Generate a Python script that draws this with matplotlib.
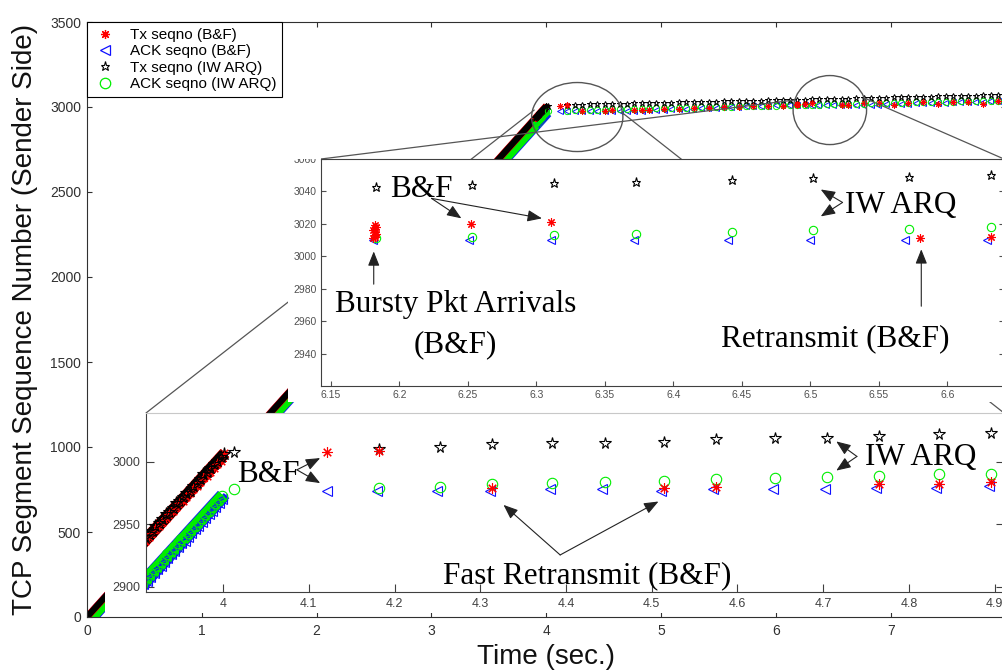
import matplotlib
matplotlib.use('Agg')
import matplotlib.pyplot as plt
from matplotlib.patches import Ellipse, Rectangle, ConnectionPatch
from matplotlib.lines import Line2D

plt.rcParams['font.family'] = ['Liberation Sans', 'DejaVu Sans']

# ---------------- data (time in s, TCP segment sequence numbers) ----------------
# main ramp (slow-start phase) anchors
ramp_tx_t = [0.0, 4.002]
ramp_tx_s = [0, 3007]
ramp_ack_t = [0.04, 4.0]
ramp_ack_s = [0, 2973]

# dense ramp end (visible in lower inset)
ramp_tx_t_pts = [3.905, 3.909, 3.913, 3.917, 3.921, 3.925, 3.929, 3.933, 3.937, 3.941,
                 3.945, 3.949, 3.953, 3.957, 3.961, 3.965, 3.969, 3.973, 3.977, 3.981,
                 3.985, 3.989, 3.993, 3.997, 4.001]
ramp_tx_iw_s = [2936, 2940, 2942, 2945, 2949, 2951, 2954, 2958, 2960, 2963,
                2967, 2969, 2972, 2975, 2977, 2981, 2983, 2986, 2990, 2992,
                2995, 2998, 3001, 3004, 3006]
ramp_tx_bf_s = [2934, 2937, 2940, 2943, 2946, 2949, 2952, 2955, 2958, 2961,
                2964, 2967, 2969, 2972, 2975, 2978, 2981, 2984, 2987, 2989,
                2992, 2995, 2998, 3001, 3007]
ramp_ack_t_pts = [3.907, 3.911, 3.915, 3.919, 3.923, 3.927, 3.931, 3.935, 3.939, 3.943,
                  3.947, 3.951, 3.955, 3.959, 3.963, 3.967, 3.971, 3.975, 3.979, 3.983,
                  3.987, 3.991, 3.995, 3.999]
ramp_ack_iw_s = [2905, 2908, 2911, 2914, 2917, 2920, 2923, 2926, 2929, 2932,
                 2935, 2938, 2940, 2943, 2946, 2949, 2952, 2955, 2958, 2961,
                 2964, 2967, 2970, 2973]
ramp_ack_bf_s = [2902, 2905, 2908, 2911, 2914, 2917, 2920, 2923, 2926, 2929,
                 2932, 2935, 2937, 2940, 2943, 2946, 2949, 2952, 2955, 2958,
                 2961, 2964, 2967, 2970]

# after the ramp: IW ARQ transmissions / ACKs
t_iw = [4.013, 4.182, 4.253, 4.314, 4.384, 4.445, 4.514, 4.575, 4.644, 4.705,
        4.765, 4.835, 4.896, 4.960, 5.025, 5.090, 5.155, 5.220, 5.285, 5.350,
        5.415, 5.480, 5.545, 5.610, 5.675, 5.740, 5.805, 5.870, 5.935, 6.000,
        6.060, 6.120, 6.183, 6.253, 6.313, 6.373, 6.443, 6.502, 6.572, 6.632,
        6.700, 6.765, 6.830, 6.895, 6.960, 7.025, 7.090, 7.155, 7.220, 7.285,
        7.350, 7.415, 7.480, 7.545, 7.610, 7.675, 7.740, 7.805, 7.870, 7.935, 8.000]
s_tx_iw = [3008, 3010, 3012, 3014, 3015, 3015, 3016, 3018, 3019, 3019,
           3021, 3022, 3023, 3024, 3025, 3026, 3027, 3028, 3029, 3030,
           3031, 3032, 3033, 3034, 3035, 3036, 3037, 3038, 3039, 3040,
           3041, 3042, 3043, 3044, 3045, 3046, 3047, 3048, 3049, 3050,
           3051, 3052, 3053, 3054, 3055, 3056, 3057, 3058, 3059, 3060,
           3061, 3062, 3063, 3064, 3065, 3066, 3067, 3068, 3069, 3070, 3071]
s_ack_iw = [2978, 2979, 2980, 2982, 2983, 2984, 2985, 2986, 2987, 2988,
            2989, 2990, 2990, 2992, 2993, 2994, 2995, 2996, 2997, 2998,
            2999, 3000, 3001, 3002, 3003, 3004, 3005, 3006, 3007, 3008,
            3009, 3010, 3011, 3012, 3013, 3014, 3015, 3016, 3017, 3018,
            3019, 3020, 3021, 3022, 3023, 3024, 3025, 3026, 3027, 3028,
            3029, 3030, 3031, 3032, 3033, 3034, 3035, 3036, 3037, 3038, 3039]

# after the ramp: B&F ACKs
t_ack_bf = [4.121, 4.180, 4.250, 4.311, 4.381, 4.442, 4.511, 4.572, 4.641, 4.702,
            4.762, 4.832, 4.893, 4.957, 5.022, 5.087, 5.152, 5.217, 5.282, 5.347,
            5.412, 5.477, 5.542, 5.607, 5.672, 5.737, 5.802, 5.867, 5.932, 5.997,
            6.057, 6.117, 6.181, 6.251, 6.311, 6.371, 6.440, 6.500, 6.569, 6.629,
            6.697, 6.762, 6.827, 6.892, 6.957, 7.022, 7.087, 7.152, 7.217, 7.282,
            7.347, 7.412, 7.477, 7.542, 7.607, 7.672, 7.737, 7.802, 7.867, 7.932, 7.997]
s_ack_bf = [2977, 2977, 2977, 2977, 2978, 2978, 2977, 2978, 2978, 2978,
            2979, 2979, 2981, 2983, 2985, 2986, 2988, 2990, 2991, 2993,
            2995, 2996, 2998, 3000, 3001, 3003, 3005, 3006, 3008, 3009,
            3010, 3010, 3010, 3010, 3010, 3010, 3010, 3010, 3010, 3010,
            3011, 3012, 3013, 3014, 3016, 3017, 3018, 3019, 3021, 3022,
            3023, 3024, 3026, 3027, 3028, 3029, 3031, 3032, 3033, 3034, 3036]

# after the ramp: B&F transmissions (incl. retransmissions and bursts)
t_tx_bf = [4.121, 4.182, 4.314, 4.514, 4.575, 4.765, 4.835, 4.896, 5.025, 5.155,
           5.285, 5.415, 5.545, 5.675, 5.805, 5.935, 6.060, 6.181, 6.182, 6.182,
           6.183, 6.182, 6.181, 6.182, 6.183, 6.182, 6.252, 6.311, 6.580, 6.632,
           6.765, 6.895, 7.025, 7.155, 7.285, 7.415, 7.545, 7.675, 7.805, 7.935]
s_tx_bf = [3008, 3009, 2979, 2979, 2980, 2982, 2982, 2984, 2986, 2989,
           2992, 2995, 2998, 3001, 3003, 3006, 3008, 3011, 3012, 3013,
           3014, 3015, 3016, 3017, 3018, 3019, 3020, 3021, 3011, 3012,
           3022, 3024, 3014, 3026, 3028, 3017, 3030, 3032, 3020, 3034]

labels = ['Tx seqno (B&F)', 'ACK seqno (B&F)', 'Tx seqno (IW ARQ)', 'ACK seqno (IW ARQ)']
RED, BLUE, BLACK, GREEN = '#ff0000', '#1010ff', '#000000', '#00ee00'
AST = (8, 2, 0)

W, H = 1002, 670
fig = plt.figure(figsize=(W / 100, H / 100), dpi=100)


def rect(l, t, r, b):
    return [l / W, 1 - b / H, (r - l) / W, (b - t) / H]


def draw_ramp(ax, lw_ack, lw_tx):
    ax.plot(ramp_ack_t, ramp_ack_s, color=BLUE, lw=lw_ack + 1.2, solid_capstyle='butt')
    ax.plot([t + 0.004 for t in ramp_ack_t], ramp_ack_s, color=BLUE, lw=lw_ack * 0.6, solid_capstyle='butt')
    ax.plot(ramp_ack_t, ramp_ack_s, color=GREEN, lw=lw_ack, solid_capstyle='butt')
    ax.plot(ramp_tx_t, ramp_tx_s, color=RED, lw=lw_tx + 0.6, solid_capstyle='butt')
    ax.plot(ramp_tx_t, ramp_tx_s, color=BLACK, lw=lw_tx, solid_capstyle='butt')


def draw_series(ax, ms_star, ms_o, ms_tri, ms_ast, mew=0.8, ms_ramp=None):
    ms_ramp = ms_ramp or ms_star
    ax.plot(ramp_ack_t_pts, ramp_ack_bf_s, ls='none', marker='<', ms=ms_tri, mfc='none', mec=BLUE, mew=mew)
    ax.plot(ramp_ack_t_pts, ramp_ack_iw_s, ls='none', marker='o', ms=ms_o, mfc='none', mec=GREEN, mew=mew)
    ax.plot(ramp_tx_t_pts, ramp_tx_bf_s, ls='none', marker=AST, ms=ms_ast, mec=RED, mew=mew)
    ax.plot(ramp_tx_t_pts, ramp_tx_iw_s, ls='none', marker='*', ms=ms_ramp, mfc='none', mec=BLACK, mew=mew)
    ax.plot(t_ack_bf, s_ack_bf, ls='none', marker='<', ms=ms_tri, mfc='none', mec=BLUE, mew=mew)
    ax.plot(t_iw, s_ack_iw, ls='none', marker='o', ms=ms_o, mfc='none', mec=GREEN, mew=mew)
    ax.plot(t_iw, s_tx_iw, ls='none', marker='*', ms=ms_star, mfc='none', mec=BLACK, mew=mew)
    ax.plot(t_tx_bf, s_tx_bf, ls='none', marker=AST, ms=ms_ast, mec=RED, mew=mew)


# ---------------- main axes ----------------
ax = fig.add_axes(rect(87, 22, 1005.5, 617))
draw_ramp(ax, 8.5, 4.5)
draw_series(ax, 4.5, 4.5, 4.5, 4.5, mew=0.7)
ax.set_xlim(0, 8)
ax.set_ylim(0, 3500)
ax.set_xticks(range(0, 8))
ax.set_yticks(range(0, 3501, 500))
ax.tick_params(direction='in', top=True, right=True, length=3.6, width=0.8,
               labelsize=10, colors='#303030')
ax.tick_params(axis='x', pad=5)
ax.tick_params(axis='y', pad=4.3)
for sp in ax.spines.values():
    sp.set_color('#303030')
ax.set_xlabel('Time (sec.)', fontsize=20, color='#111111')
ax.xaxis.set_label_coords(0.5, -0.045)
ax.set_ylabel('TCP Segment Sequence Number (Sender Side)', fontsize=20, color='#111111')
ax.yaxis.set_label_coords(-0.053, 0.5)

ax.add_patch(Ellipse((4.27, 2941), 0.795, 406, fill=False, ec='#555555', lw=1, zorder=5))
ax.add_patch(Ellipse((6.47, 2982), 0.64, 406, fill=False, ec='#555555', lw=1, zorder=5))

handles = [Line2D([], [], ls='none', marker=AST, ms=6.5, mec=RED, mew=0.9),
           Line2D([], [], ls='none', marker='<', ms=7.5, mfc='none', mec=BLUE, mew=0.9),
           Line2D([], [], ls='none', marker='*', ms=6.5, mfc='none', mec=BLACK, mew=0.8),
           Line2D([], [], ls='none', marker='o', ms=7.5, mfc='none', mec=GREEN, mew=0.9)]
leg = ax.legend(handles, labels, loc='upper left', borderaxespad=0, fontsize=11,
                fancybox=False, edgecolor='black', framealpha=1, handlelength=1.6,
                handletextpad=0.8, labelspacing=0.15, borderpad=0.4)
leg.get_frame().set_linewidth(0.8)
leg.set_zorder(20)

# ---------------- lower inset (3.91 - 4.91 s) ----------------
ax1 = fig.add_axes(rect(146, 413, 1004, 592))
ax1.add_patch(Rectangle((-0.048, -0.115), 1.1, 1.115, transform=ax1.transAxes,
                        fc='white', ec='none', clip_on=False, zorder=-5))
draw_ramp(ax1, 9.0, 8.0)
draw_series(ax1, 8.5, 7.5, 7.5, 7.5, ms_ramp=9.5)
ax1.set_xlim(3.910, 4.911)
ax1.set_ylim(2896, 3039)
ax1.set_xticks([4.0, 4.1, 4.2, 4.3, 4.4, 4.5, 4.6, 4.7, 4.8, 4.9])
ax1.set_xticklabels(['4', '4.1', '4.2', '4.3', '4.4', '4.5', '4.6', '4.7', '4.8', '4.9'])
ax1.set_yticks([2900, 2950, 3000])
ax1.tick_params(direction='in', right=True, top=False, length=6, width=0.8,
                labelsize=9, colors='#404040', pad=4.3)
for sp in ax1.spines.values():
    sp.set_color('#404040')
ax1.spines['top'].set_color('#c8c8c8')

# ---------------- upper inset (6.14 - 6.64 s) ----------------
ax2 = fig.add_axes(rect(321, 159, 1004, 386))
ax2.add_patch(Rectangle((-0.048, -0.07), 1.1, 1.07, transform=ax2.transAxes,
                        fc='white', ec='none', clip_on=False, zorder=-5))
draw_series(ax2, 6.5, 6, 6, 6)
ax2.set_xlim(6.1427, 6.6414)
ax2.set_ylim(2920, 3060)
ax2.set_xticks([6.15, 6.2, 6.25, 6.3, 6.35, 6.4, 6.45, 6.5, 6.55, 6.6])
ax2.set_xticklabels(['6.15', '6.2', '6.25', '6.3', '6.35', '6.4', '6.45', '6.5', '6.55', '6.6'])
ax2.set_yticks([2940, 2960, 2980, 3000, 3020, 3040, 3060])
ax2.tick_params(direction='in', right=True, top=False, length=3.6, width=0.8,
                labelsize=7.5, colors='#505050', pad=3)
for sp in ax2.spines.values():
    sp.set_color('#404040')
# the top half of the "3060" label is cropped in the original
ax2.add_patch(Rectangle((-0.06, 1.0015), 0.06, 0.05, transform=ax2.transAxes,
                        fc='white', ec='none', clip_on=False, zorder=10))

# ---------------- zoom connectors ----------------
for axA, xa, xyB in [(ax1, 0, (3.895, 2982)), (ax1, 1, (4.655, 2970)),
                     (ax2, 0, (6.162, 3041)), (ax2, 1, (6.77, 3053))]:
    con = ConnectionPatch(xyA=(xa, 1), coordsA=axA.transAxes, xyB=xyB, coordsB=ax.transData,
                          color='#555555', lw=0.9, zorder=4)
    con.set_clip_on(False)
    ax.add_artist(con)

# ---------------- annotations ----------------
SERIF = dict(family=['Liberation Serif', 'DejaVu Serif'], fontsize=22.5, color='black')
AP = dict(arrowstyle='-|>,head_length=0.55,head_width=0.22', color='#222222', lw=0.8,
          mutation_scale=16, shrinkA=0, shrinkB=0)

# upper inset
ax2.text(6.2161, 3036.3, 'B&F', ha='center', va='baseline', **SERIF)
ax2.annotate('', xy=(6.2452, 3023.4), xytext=(6.2234, 3035.7), arrowprops=AP)
ax2.annotate('', xy=(6.3040, 3023.4), xytext=(6.2234, 3035.7), arrowprops=AP)
ax2.text(6.2408, 2965.5, 'Bursty Pkt Arrivals', ha='center', va='baseline', **SERIF)
ax2.text(6.2408, 2940.9, '(B&F)', ha='center', va='baseline', **SERIF)
ax2.annotate('', xy=(6.1812, 3003.0), xytext=(6.1812, 2982.8), arrowprops=AP)
ax2.text(6.5661, 3027.0, 'IW ARQ', ha='center', va='baseline', **SERIF)
ax2.annotate('', xy=(6.5076, 3041.2), xytext=(6.5235, 3033.2), arrowprops=AP)
ax2.annotate('', xy=(6.5076, 3024.6), xytext=(6.5235, 3033.2), arrowprops=AP)
ax2.text(6.5185, 2944.6, 'Retransmit (B&F)', ha='center', va='baseline', **SERIF)
ax2.annotate('', xy=(6.5810, 3004.3), xytext=(6.5810, 2969.2), arrowprops=AP)

# lower inset
ax1.text(4.0531, 2984.0, 'B&F', ha='center', va='baseline', **SERIF)
ax1.annotate('', xy=(4.1132, 3003.0), xytext=(4.0860, 2993.6), arrowprops=AP)
ax1.annotate('', xy=(4.1132, 2983.0), xytext=(4.0860, 2993.6), arrowprops=AP)
ax1.text(4.8133, 2997.6, 'IW ARQ', ha='center', va='baseline', **SERIF)
ax1.annotate('', xy=(4.7153, 3016.3), xytext=(4.7394, 3004.3), arrowprops=AP)
ax1.annotate('', xy=(4.7153, 2993.0), xytext=(4.7394, 3004.3), arrowprops=AP)
ax1.text(4.4247, 2903.2, 'Fast Retransmit (B&F)', ha='center', va='baseline', **SERIF)
ax1.annotate('', xy=(4.3271, 2965.6), xytext=(4.3932, 2925.6), arrowprops=AP)
ax1.annotate('', xy=(4.5079, 2968.3), xytext=(4.3932, 2925.6), arrowprops=AP)

fig.savefig('out.png', dpi=100)
